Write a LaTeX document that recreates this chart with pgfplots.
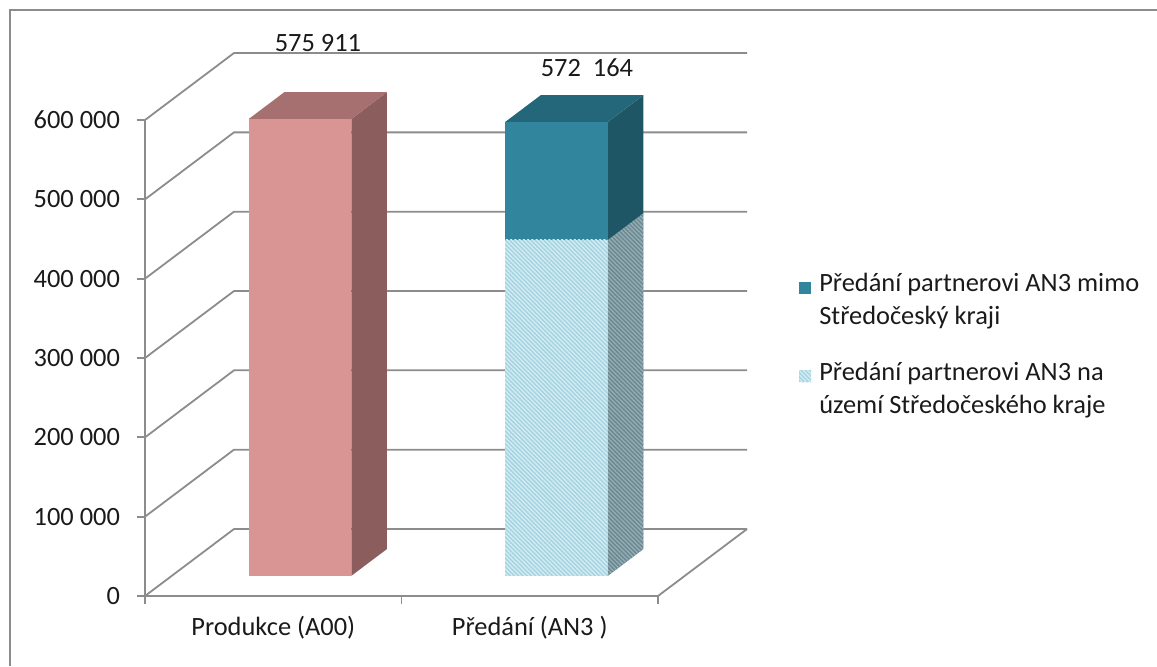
\documentclass[border=0pt]{standalone}
\usepackage{fontspec}
\setmainfont{Carlito}
\usepackage{pgfplots}
\usepackage{pgfplotstable}
\pgfplotsset{compat=1.18}
\usetikzlibrary{patterns.meta}

\definecolor{gridc}{HTML}{8C8C8C}
\definecolor{txt}{HTML}{1A1A1A}
\definecolor{pinkF}{HTML}{D99594}
\definecolor{pinkS}{HTML}{8B5E5D}
\definecolor{pinkT}{HTML}{A5706F}
\definecolor{tealF}{HTML}{31859C}
\definecolor{tealS}{HTML}{1F5666}
\definecolor{tealT}{HTML}{24667A}
\definecolor{ltF}{HTML}{A4D3E0}
\definecolor{ltFs}{HTML}{D3ECF3}
\definecolor{ltS}{HTML}{6C8790}
\definecolor{ltSs}{HTML}{93ADB4}

\newcommand\fs{\fontsize{13.2}{16.5}\selectfont}

% bars: category, value (nan = no bar)
\pgfplotstableread{
x  prod    celkem  uzemi
1  575911  nan     nan
2  nan     572164  423500
}\data

\tikzset{
  hatch/.style={postaction={pattern={Lines[angle=-45,distance=1.5pt,line width=0.7pt]}, pattern color=#1}},
  front/.style={xshift=13.35pt, yshift=10.05pt},
}

\begin{document}
\begin{tikzpicture}[font=\fs, text=txt]
\useasboundingbox (0,0) rectangle (578.5pt,333pt);
\draw[gridc, line width=1pt] (5pt,0) -- (5pt,328pt) -- (578.5pt,328pt);
\begin{axis}[
    at={(72.5pt,35pt)}, anchor=south west,
    scale only axis, width=256.5pt, height=238pt,
    xmin=0.5, xmax=2.5, ymin=0, ymax=600000,
    enlargelimits=false, clip=false,
    axis x line*=bottom, axis y line*=left,
    axis line style={gridc, line width=0.9pt},
    tick style={gridc, line width=0.9pt},
    tick align=outside, major tick length=4pt,
    xtick={0.5,1.5,2.5}, x tick label as interval,
    xticklabels={Produkce (A00), Předání (AN3 )},
    xticklabel style={yshift=-2.4pt},
    ytick={0,100000,200000,300000,400000,500000,600000},
    scaled y ticks=false,
    yticklabel style={xshift=-5pt, /pgf/number format/.cd, fixed, precision=0, 1000 sep={\ }, assume math mode=true},
    tick label style={font=\fs, text=txt},
    legend style={at={(rel axis cs:1.263,0.695)}, anchor=north west,
        draw=none, fill=none, font=\fs, text=txt, row sep=13pt,
        cells={align=left},
        /tikz/every odd column/.append style={column sep=2pt}},
    legend cell align=left,
    legend image code/.code={\fill[#1, xshift=-13.35pt, yshift=-10.05pt] (0pt,3.5pt) rectangle (6pt,9.5pt);},
]
% back wall and left wall gridlines
\pgfplotsinvokeforeach{0,100000,200000,300000,400000,500000,600000}{
  \draw[gridc, line width=0.9pt] (axis cs:0.5,#1) -- ++(44.5pt,33.5pt) -- ++(256.5pt,0pt);
}
\draw[gridc, line width=0.9pt] (axis cs:2.5,0) -- ++(44.5pt,33.5pt);

% side and top faces
\addplot[fill=pinkS, draw=none, forget plot] coordinates {(1.3041,25336) (1.3041,601247) (1.4429,635029) (1.4429,59118)};
\addplot[fill=pinkT, draw=none, forget plot] coordinates {(0.9041,601247) (1.3041,601247) (1.4429,635029) (1.0429,635029)};
\addplot[fill=ltS, hatch=ltSs, draw=none, forget plot] coordinates {(2.3041,25336) (2.3041,448836) (2.4429,482618) (2.4429,59118)};
\addplot[fill=tealS, draw=none, forget plot] coordinates {(2.3041,448836) (2.3041,597500) (2.4429,631282) (2.4429,482618)};
\addplot[fill=tealT, draw=none, forget plot] coordinates {(1.9041,597500) (2.3041,597500) (2.4429,631282) (2.0429,631282)};

% front faces
\addplot[ybar, bar width=0.4, bar shift=0pt, front, fill=pinkF, draw=none, forget plot] table[x=x, y=prod] \data;
\addplot[ybar, bar width=0.4, bar shift=0pt, front, fill=tealF, draw=none] table[x=x, y=celkem] \data;
\addlegendentry{Předání partnerovi AN3 mimo\\Středočeský kraji}
\addplot[ybar, bar width=0.4, bar shift=0pt, front, fill=ltF, hatch=ltFs, draw=none] table[x=x, y=uzemi] \data;
\addlegendentry{Předání partnerovi AN3 na\\území Středočeského kraje}

\node at (axis cs:1.174,697059) {575 911};
\node at (axis cs:2.223,665546) {572\ \ 164};
\end{axis}
\end{tikzpicture}
\end{document}
